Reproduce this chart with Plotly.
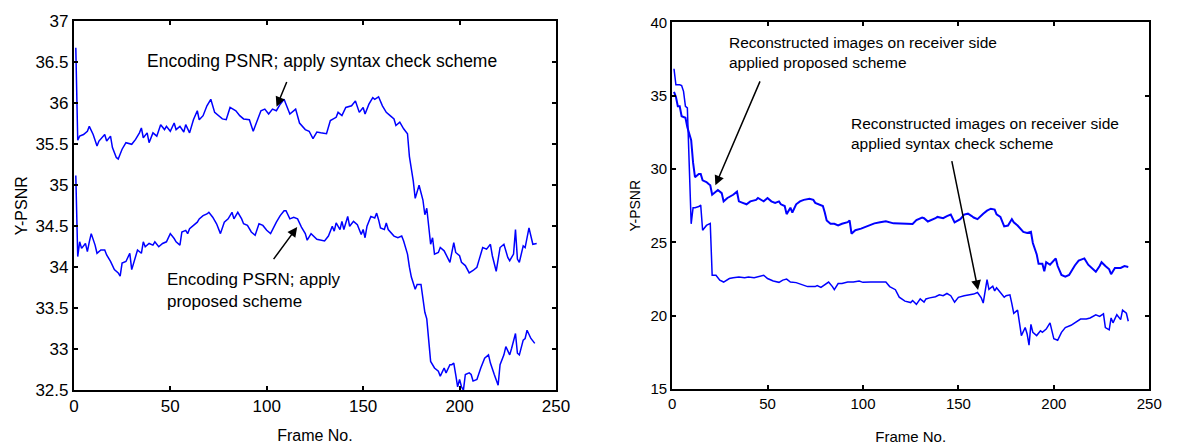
import plotly.graph_objects as go

# ---------------- data ----------------
# Left panel: encoding PSNR
l_syn_f = [1,2,3,5,7,8,10,12,13,16,17,19,20,22,23,25,27,30,32,34,35,36,38,39,41,43,45,47,48,50,52,53,55,57,58,60,62,64,65,67,69,71,73,75,77,79,81,84,86,88,91,93,94,97,99,101,103,105,107,109,110,112,115,117,120,122,124,126,128,131,133,136,137,139,141,144,146,148,150,151,153,155,156,158,160,162,164,166,167,169,171,173,174,175,176,177,178,179,181,182,183,184,185,186,187,189,190,192,195,197,198,200,201,203,205,207,209,210,212,214,216,217,219,221,223,225,226,228,229,230,231,233,234,236,237,238,240]
l_syn_v = [36.68,35.55,35.6,35.62,35.66,35.72,35.62,35.48,35.54,35.62,35.54,35.6,35.46,35.34,35.32,35.44,35.52,35.5,35.56,35.64,35.7,35.58,35.64,35.52,35.64,35.6,35.74,35.68,35.72,35.66,35.76,35.68,35.72,35.65,35.74,35.64,35.8,35.91,35.8,35.85,35.97,36.05,35.89,35.85,35.81,35.8,35.95,35.91,35.85,35.81,35.8,35.66,35.72,35.91,35.93,35.87,35.93,35.91,35.99,36.05,35.99,35.87,35.93,35.76,35.68,35.66,35.57,35.65,35.64,35.63,35.79,35.83,35.89,35.85,35.95,35.97,36.03,35.89,35.95,35.87,35.99,36.07,36.05,36.08,35.97,35.89,35.85,35.81,35.73,35.77,35.69,35.63,35.35,35.2,35.05,34.84,34.93,35.0,34.82,34.64,34.72,34.45,34.28,34.36,34.16,34.18,34.24,34.2,34.06,34.3,34.18,34.14,34.06,34.02,33.93,33.96,34.0,34.08,34.24,34.22,34.28,34.14,33.95,34.24,34.28,34.12,34.08,34.16,34.46,34.1,34.06,34.26,34.24,34.48,34.36,34.28,34.29]

l_pro_f = [1,2,3,4,6,7,8,9,11,12,14,16,17,19,21,23,24,25,27,29,30,32,33,35,36,37,39,41,42,44,46,48,50,52,53,55,56,58,59,60,62,64,65,67,69,70,72,74,76,78,80,82,83,85,87,88,90,92,94,96,98,100,102,104,105,107,109,110,112,114,116,118,120,121,123,126,128,130,132,134,135,136,138,139,140,142,143,145,147,148,149,150,151,152,154,156,157,158,159,161,162,163,165,166,168,170,171,173,174,175,177,178,180,181,182,183,184,185,187,189,190,192,193,195,196,197,198,199,200,201,202,203,205,206,207,209,211,213,215,216,218,220,221,223,224,226,227,229,230,231,233,234,235,236,237,239]
l_pro_v = [35.12,34.13,34.31,34.23,34.29,34.19,34.31,34.41,34.27,34.17,34.21,34.21,34.15,34.07,33.97,33.93,33.89,34.05,34.07,34.17,33.97,34.15,34.21,34.17,34.31,34.25,34.29,34.27,34.31,34.25,34.29,34.31,34.41,34.35,34.31,34.27,34.43,34.45,34.41,34.47,34.51,34.55,34.59,34.63,34.65,34.67,34.61,34.53,34.41,34.55,34.59,34.67,34.59,34.67,34.59,34.53,34.51,34.43,34.39,34.53,34.51,34.45,34.41,34.51,34.55,34.63,34.69,34.69,34.59,34.61,34.59,34.49,34.41,34.33,34.41,34.34,34.33,34.32,34.38,34.5,34.44,34.54,34.46,34.56,34.46,34.62,34.5,34.56,34.52,34.46,34.4,34.46,34.36,34.5,34.62,34.6,34.66,34.58,34.48,34.46,34.54,34.46,34.4,34.38,34.36,34.38,34.32,34.16,34.0,33.88,33.73,33.79,33.79,33.61,33.45,33.37,33.05,32.85,32.77,32.73,32.67,32.77,32.71,32.81,32.81,32.83,32.69,32.54,32.63,32.54,32.5,32.69,32.71,32.69,32.61,32.63,32.77,32.89,32.93,32.83,32.69,32.56,32.81,32.93,33.03,32.93,33.01,33.19,32.95,32.93,33.11,33.13,33.23,33.17,33.13,33.07]

# Right panel: reconstructed images on receiver side
r_pro_f = [1,2,3,4,5,7,8,9,10,11,12,14,15,16,18,19,20,21,23,24,26,27,29,31,32,34,35,37,39,41,44,45,48,50,52,54,56,57,59,60,62,63,65,67,69,72,74,75,77,79,80,81,83,85,87,89,92,93,94,96,99,101,104,106,109,112,116,119,123,126,128,131,132,134,136,138,139,142,144,146,148,150,151,153,155,157,158,160,162,163,165,167,169,170,172,174,176,178,179,181,184,186,188,189,191,192,194,195,196,198,201,202,204,206,208,211,213,216,218,220,222,224,225,227,229,230,232,235,237,239]
r_pro_v = [35.26,34.93,34.28,34.28,33.6,33.5,32.85,32.3,31.97,30.44,29.45,29.67,29.67,29.23,29.12,29.0,28.9,28.25,28.46,28.57,28.36,27.8,28.03,28.14,28.25,28.46,27.8,27.7,27.6,27.8,27.9,28.03,27.8,28.03,27.8,27.7,27.8,27.6,27.48,26.93,27.37,27.04,27.6,27.8,27.9,27.98,27.9,27.7,27.6,27.48,27.04,26.5,26.27,26.27,26.16,26.27,26.38,26.5,25.6,25.83,25.94,26.05,26.16,26.3,26.38,26.45,26.3,26.27,26.27,26.26,26.52,26.7,26.65,26.43,26.52,26.65,26.74,26.65,26.8,26.9,26.37,26.48,26.59,26.9,26.96,26.8,26.7,26.59,26.87,26.96,27.17,27.3,27.24,26.91,26.74,26.09,26.15,26.59,26.37,26.15,25.72,25.65,25.72,24.96,24.2,23.54,23.54,23.04,23.65,23.48,23.91,23.39,22.78,22.67,22.78,23.43,23.76,23.91,23.48,23.26,23.0,23.39,23.65,23.39,23.17,22.83,23.26,23.26,23.39,23.33]

r_syn_f = [1,2,4,5,6,7,8,10,11,12,14,15,16,18,20,21,23,25,27,30,32,35,38,40,43,45,48,50,53,56,58,60,62,65,68,71,75,76,78,80,82,84,85,87,89,92,95,98,100,104,107,111,112,114,116,117,119,122,125,126,128,130,132,133,135,138,140,142,144,146,148,150,153,156,158,160,162,163,164,165,166,168,169,170,172,174,175,177,178,179,181,182,183,185,186,187,188,189,191,193,194,196,198,200,202,204,206,209,212,214,217,219,222,224,226,227,229,230,231,233,235,236,238,239]
r_syn_v = [36.84,35.75,35.75,35.7,35.3,34.28,34.17,26.27,27.37,27.37,27.45,27.54,25.83,26.16,26.3,22.76,22.76,22.43,22.3,22.54,22.6,22.65,22.6,22.65,22.6,22.65,22.76,22.54,22.37,22.28,22.43,22.5,22.3,22.26,22.15,21.99,21.99,22.06,21.93,22.1,22.3,21.99,21.78,22.2,22.2,22.3,22.3,22.37,22.28,22.3,22.3,22.3,22.3,21.99,21.84,21.78,21.27,21.0,20.9,21.04,20.78,21.15,20.93,21.15,21.22,21.3,21.43,21.37,21.52,21.37,20.93,21.26,21.37,21.43,21.48,21.59,21.22,20.87,21.7,22.46,21.8,22.02,21.7,21.91,21.59,21.26,21.37,21.43,20.83,20.17,20.39,19.52,18.65,19.2,18.76,18.0,19.41,18.87,18.65,18.98,18.87,19.09,19.52,18.43,18.33,18.87,19.2,19.35,19.63,19.78,19.78,19.85,20.07,19.96,20.13,19.2,19.04,19.85,19.52,20.07,19.74,20.39,20.17,19.63]

x_ticks = [0, 50, 100, 150, 200, 250]
left_y_ticks = [32.5, 33, 33.5, 34, 34.5, 35, 35.5, 36, 36.5, 37]
right_y_ticks = [15, 20, 25, 30, 35, 40]

# ---------------- figure ----------------
BLUE = "#0000FF"
FONT = "Liberation Sans, Arial, sans-serif"

fig = go.Figure()
fig.add_trace(go.Scatter(x=l_syn_f, y=l_syn_v, mode="lines", line=dict(color=BLUE, width=1.5),
                         xaxis="x", yaxis="y", showlegend=False))
fig.add_trace(go.Scatter(x=l_pro_f, y=l_pro_v, mode="lines", line=dict(color=BLUE, width=1.5),
                         xaxis="x", yaxis="y", showlegend=False))
fig.add_trace(go.Scatter(x=r_pro_f, y=r_pro_v, mode="lines", line=dict(color=BLUE, width=2),
                         xaxis="x2", yaxis="y2", showlegend=False))
fig.add_trace(go.Scatter(x=r_syn_f, y=r_syn_v, mode="lines", line=dict(color=BLUE, width=1.5),
                         xaxis="x2", yaxis="y2", showlegend=False))

W, H = 1180, 447

def dom_x(a, b):
    return [a / W, b / W]

def dom_y(top, bottom):
    return [1 - bottom / H, 1 - top / H]

axis_common = dict(showline=True, linecolor="black", linewidth=2, mirror="ticks",
                   ticks="inside", ticklen=4, tickcolor="black", tickwidth=1.5,
                   showgrid=False, zeroline=False, color="black")

fig.update_layout(
    width=W, height=H,
    margin=dict(l=0, r=0, t=0, b=0),
    paper_bgcolor="white", plot_bgcolor="white",
    font=dict(family=FONT, color="black"),
    xaxis=dict(domain=dom_x(70, 560), range=[0, 250], tickvals=x_ticks,
               tickfont=dict(size=17), anchor="y",
               title=dict(text="Frame No.", font=dict(size=16), standoff=14), **axis_common),
    yaxis=dict(domain=dom_y(13, 398), range=[32.5, 37], tickvals=left_y_ticks,
               ticktext=[("%g" % v) for v in left_y_ticks],
               tickfont=dict(size=17), anchor="x",
               title=dict(text="Y-PSNR", font=dict(size=16), standoff=4), **axis_common),
    xaxis2=dict(domain=dom_x(678, 1163), range=[0, 250], tickvals=x_ticks,
                tickfont=dict(size=15), anchor="y2",
                title=dict(text="Frame No.", font=dict(size=15), standoff=20), **axis_common),
    yaxis2=dict(domain=dom_y(14, 397), range=[15, 40], tickvals=right_y_ticks,
                tickfont=dict(size=15), anchor="x2",
                title=dict(text="Y-PSNR", font=dict(size=14), standoff=6), **axis_common),
)

# text labels
fig.add_annotation(x=128.6, y=36.52, xref="x", yref="y", showarrow=False,
                   text="Encoding PSNR; apply syntax check scheme", font=dict(size=17.5))
fig.add_annotation(x=47.5, y=33.71, xref="x", yref="y", showarrow=False, xanchor="left",
                   align="left", text="Encoding PSRN; apply<br>proposed scheme", font=dict(size=17))
fig.add_annotation(x=29.0, y=37.95, xref="x2", yref="y2", showarrow=False, xanchor="left",
                   align="left", text="Reconstructed images on receiver side<br>applied proposed scheme",
                   font=dict(size=15.5))
fig.add_annotation(x=92.5, y=32.45, xref="x2", yref="y2", showarrow=False, xanchor="left",
                   align="left", text="Reconstructed images on receiver side<br>applied syntax check scheme",
                   font=dict(size=15.5))

# arrows
arrows = [
    ("x", "y", 110.7, 36.28, 105.1, 35.96),
    ("x", "y", 103.0, 34.08, 115.8, 34.49),
    ("x2", "y2", 46.4, 36.08, 22.7, 28.89),
    ("x2", "y2", 146.4, 30.65, 160.3, 21.76),
]
for xr, yr, tx, ty, hx, hy in arrows:
    fig.add_annotation(x=hx, y=hy, ax=tx, ay=ty, xref=xr, yref=yr, axref=xr, ayref=yr,
                       showarrow=True, arrowhead=2, arrowsize=1.3, arrowwidth=1.5,
                       arrowcolor="black", text="")

fig.write_html("out.html")
